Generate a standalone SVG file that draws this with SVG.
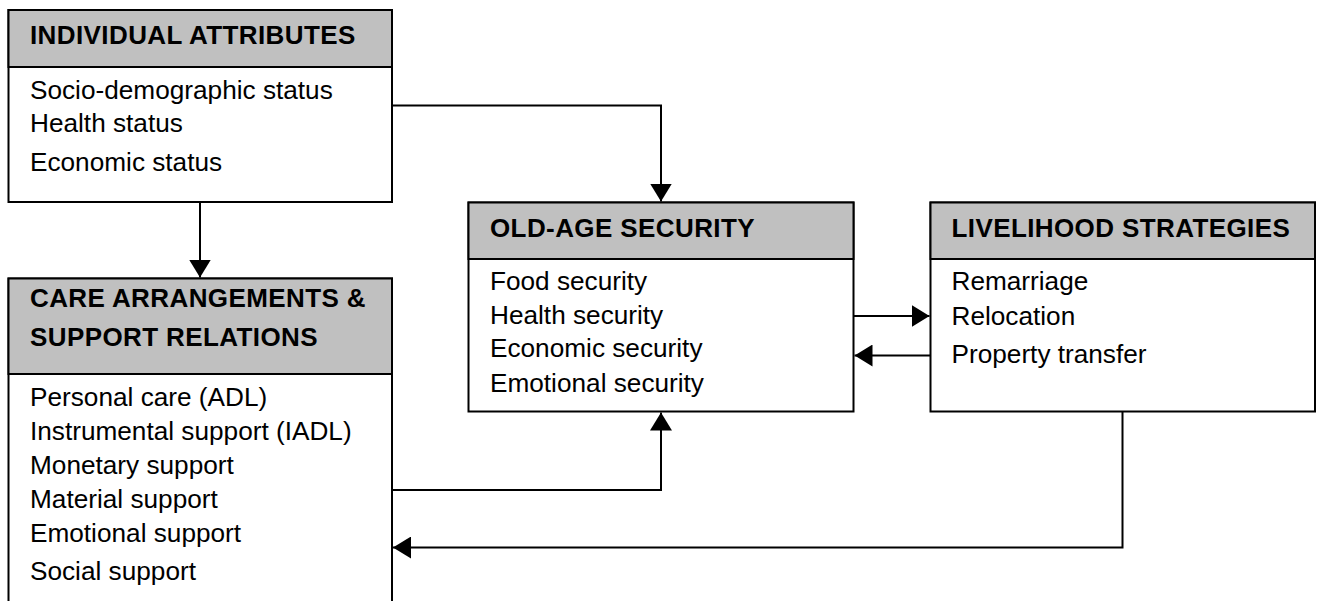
<svg xmlns="http://www.w3.org/2000/svg" width="1319" height="601" viewBox="0 0 1319 601">
<style>
.box{fill:#fff;stroke:#000;stroke-width:2}
.hdr{fill:#c0c0c0;stroke:#000;stroke-width:2}
.ht{font-family:"Liberation Sans",Arial,sans-serif;font-weight:bold;font-size:26px;letter-spacing:0.4px;fill:#000}
.bt{font-family:"Liberation Sans",Arial,sans-serif;font-size:26.2px;fill:#000}
.con{fill:none;stroke:#000;stroke-width:2}
</style>
<defs>
<marker id="ah" viewBox="0 0 18 22" refX="18" refY="11" markerWidth="18" markerHeight="22" markerUnits="userSpaceOnUse" orient="auto">
<path d="M0,0 L18,11 L0,22 Z" fill="#000"/>
</marker>
</defs>
<rect width="1319" height="601" fill="#fff"/>
<g id="individual-attributes">
<rect class="box" x="8.5" y="10" width="383.5" height="192"/>
<rect class="hdr" x="8.5" y="10" width="383.5" height="57"/>
<text class="ht" x="30" y="44">INDIVIDUAL ATTRIBUTES</text>
<text class="bt" x="30" y="99">Socio-demographic status</text>
<text class="bt" x="30" y="132">Health status</text>
<text class="bt" x="30" y="171">Economic status</text>
</g>
<g id="care-arrangements">
<rect class="box" x="8.5" y="278.5" width="383.5" height="340"/>
<rect class="hdr" x="8.5" y="278.5" width="383.5" height="95.5"/>
<text class="ht" x="30" y="306.5">CARE ARRANGEMENTS &amp;</text>
<text class="ht" x="30" y="346">SUPPORT RELATIONS</text>
<text class="bt" x="30" y="406">Personal care (ADL)</text>
<text class="bt" x="30" y="440">Instrumental support (IADL)</text>
<text class="bt" x="30" y="473.5">Monetary support</text>
<text class="bt" x="30" y="507.5">Material support</text>
<text class="bt" x="30" y="541.5">Emotional support</text>
<text class="bt" x="30" y="579.5">Social support</text>
</g>
<g id="old-age-security">
<rect class="box" x="468.5" y="202.5" width="385" height="209"/>
<rect class="hdr" x="468.5" y="202.5" width="385" height="56.5"/>
<text class="ht" x="490" y="236.5">OLD-AGE SECURITY</text>
<text class="bt" x="490" y="290">Food security</text>
<text class="bt" x="490" y="324">Health security</text>
<text class="bt" x="490" y="357">Economic security</text>
<text class="bt" x="490" y="391.5">Emotional security</text>
</g>
<g id="livelihood-strategies">
<rect class="box" x="930.5" y="202.5" width="384.5" height="209"/>
<rect class="hdr" x="930.5" y="202.5" width="384.5" height="56.5"/>
<text class="ht" x="951.5" y="236.5">LIVELIHOOD STRATEGIES</text>
<text class="bt" x="951.5" y="290">Remarriage</text>
<text class="bt" x="951.5" y="325">Relocation</text>
<text class="bt" x="951.5" y="362.5">Property transfer</text>
</g>
<g id="connectors">
<path class="con" d="M392,105.5 H661 V201.5" marker-end="url(#ah)"/>
<path class="con" d="M200,202 V277.5" marker-end="url(#ah)"/>
<path class="con" d="M392,490 H661 V412.5" marker-end="url(#ah)"/>
<path class="con" d="M853.5,316 H929.5" marker-end="url(#ah)"/>
<path class="con" d="M930.5,355.5 H854.5" marker-end="url(#ah)"/>
<path class="con" d="M1122.5,411.5 V547.5 H393" marker-end="url(#ah)"/>
</g>
</svg>
